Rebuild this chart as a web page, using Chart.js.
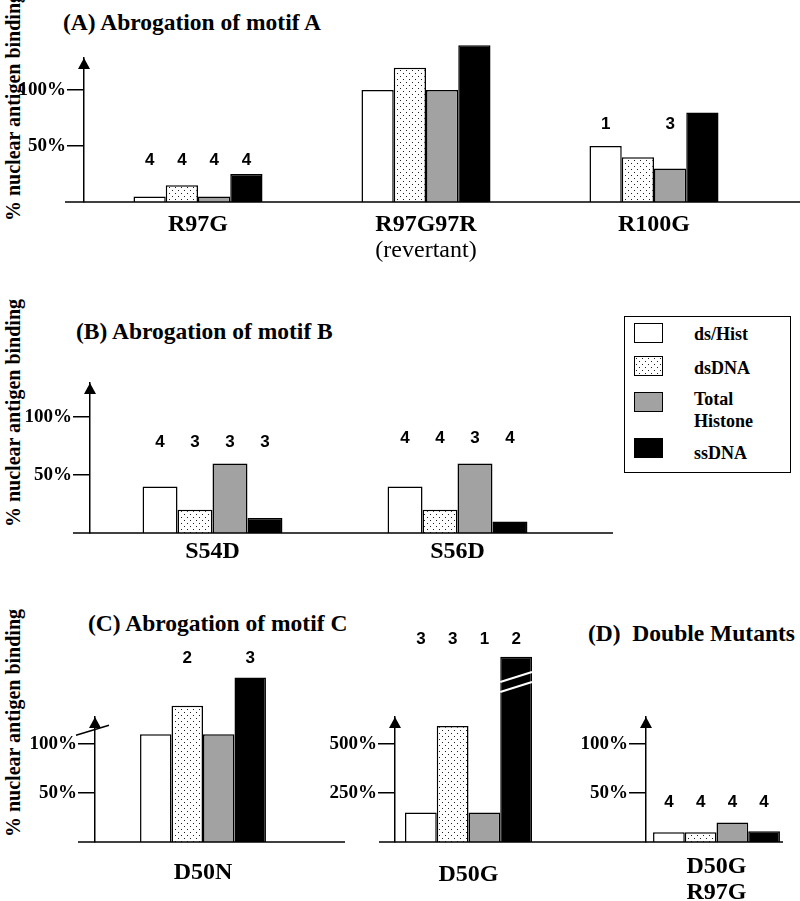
<!DOCTYPE html>
<html>
<head>
<meta charset="utf-8">
<script src="https://cdn.jsdelivr.net/npm/chart.js@4.4.1/dist/chart.umd.min.js"></script>
<style>
  body { margin: 0; background: #fff; }
  #page { position: relative; width: 800px; height: 901px; overflow: hidden; }
  #page canvas { position: absolute; left: 0; top: 0; }
  .title { position: absolute; font: bold 23.5px "Liberation Serif", serif; white-space: pre; line-height: 26px; }
  .ytitle { position: absolute; width: 260px; height: 20px; line-height: 20px; text-align: center;
            font: bold 20px "Liberation Serif", serif; transform: rotate(-90deg); white-space: nowrap; }
  #legend { position: absolute; left: 624px; top: 316px; width: 165px; height: 155px; border: 1.5px solid #000; }
  #legend .sw { position: absolute; left: 9px; width: 27px; height: 18px; border: 1.5px solid #000; }
  #legend .lb { position: absolute; left: 69px; width: 92px; font: bold 18px "Liberation Serif", serif; line-height: 22px; }
</style>
</head>
<body>
<div id="page">
  <div class="title" style="left:63px; top:9px;">(A) Abrogation of motif A</div>
  <div class="title" style="left:76px; top:318px;">(B) Abrogation of motif B</div>
  <div class="title" style="left:88px; top:610px;">(C) Abrogation of motif C</div>
  <div class="title" style="left:588px; top:620px;">(D)  Double Mutants</div>
  <div class="ytitle" style="left:-118px; top:97px;">% nuclear antigen binding</div>
  <div class="ytitle" style="left:-118px; top:403px;">% nuclear antigen binding</div>
  <div class="ytitle" style="left:-118px; top:713px;">% nuclear antigen binding</div>
  <div id="legend"></div>
</div>
<script>
// Series
const seriesNames = ['ds/Hist', 'dsDNA', 'Total Histone', 'ssDNA'];

// (A) motif A
const catsA = ['R97G', 'R97G97R', 'R100G'];
const subA = ['', '(revertant)', ''];
const dsHistA = [5, 100, 50];
const dsDnaA = [15, 120, 40];
const histA = [5, 100, 30];
const ssDnaA = [25, 140, 80];
const nA = [['4', '', '1'], ['4', '', ''], ['4', '', '3'], ['4', '', '']];
const nLevelA = [37.5, 0, 69];
const ticksA = [50, 100];

// (B) motif B
const catsB = ['S54D', 'S56D'];
const dsHistB = [40, 40];
const dsDnaB = [20, 20];
const histB = [60, 60];
const ssDnaB = [13, 10];
const nB = [['4', '4'], ['3', '4'], ['3', '3'], ['3', '4']];
const nLevelB = [78, 82];
const ticksB = [50, 100];

// (C) motif C, D50N
const catsC1 = ['D50N'];
const dsHistC1 = [110];
const dsDnaC1 = [139];
const histC1 = [110];
const ssDnaC1 = [168];
const nC1 = [[''], ['2'], [''], ['3']];
const nLevelC1 = [188];
const ticksC1 = [50, 100];

// (C) motif C, D50G (other scale, ssDNA bar broken)
const catsC2 = ['D50G'];
const dsHistC2 = [150];
const dsDnaC2 = [592];
const histC2 = [150];
const ssDnaC2 = [945];
const nC2 = [['3'], ['3'], ['1'], ['2']];
const nLevelC2 = [1036];
const ticksC2 = [250, 500];

// (D) double mutant
const catsD = [['D50G', 'R97G']];
const dsHistD = [10];
const dsDnaD = [10];
const histD = [20];
const ssDnaD = [11];
const nD = [['4'], ['4'], ['4'], ['4']];
const nLevelD = [41];
const ticksD = [50, 100];

// dotted fill
const pc = document.createElement('canvas');
pc.width = 6; pc.height = 6;
const pctx = pc.getContext('2d');
pctx.fillStyle = '#fff'; pctx.fillRect(0, 0, 6, 6);
pctx.fillStyle = '#222';
pctx.fillRect(1, 1, 1, 1);
pctx.fillRect(4, 4, 1, 1);
const dots = pctx.createPattern(pc, 'repeat');
const fills = ['#ffffff', dots, '#a2a2a2', '#000000'];
const cssFills = ['#ffffff', 'url(' + pc.toDataURL() + ')', '#a2a2a2', '#000000'];

// legend
const legend = document.getElementById('legend');
const swTop = [6, 39, 75, 121];
const lbTop = [6, 40, 71, 125];
seriesNames.forEach((name, i) => {
  const sw = document.createElement('div');
  sw.className = 'sw';
  sw.style.top = swTop[i] + 'px';
  sw.style.background = cssFills[i];
  legend.appendChild(sw);
  const lb = document.createElement('div');
  lb.className = 'lb';
  lb.style.top = lbTop[i] + 'px';
  lb.textContent = name;
  legend.appendChild(lb);
});

const page = document.getElementById('page');

function decor(o) {
  return {
    id: 'decor',
    afterDraw(chart) {
      const { ctx, chartArea: a, scales: { x, y } } = chart;
      const y0 = y.getPixelForValue(0);
      ctx.save();
      ctx.strokeStyle = '#000';
      ctx.fillStyle = '#000';
      ctx.lineWidth = 1.5;
      // baseline
      ctx.beginPath();
      ctx.moveTo(o.base[0], y0);
      ctx.lineTo(o.base[1], y0);
      ctx.stroke();
      // arrow on y axis
      ctx.beginPath();
      ctx.moveTo(a.left, a.top);
      ctx.lineTo(a.left - 6, a.top + 11);
      ctx.lineTo(a.left + 6, a.top + 11);
      ctx.closePath();
      ctx.fill();
      // broken axis mark
      if (o.axisBreak) {
        const yb = y.getPixelForValue(o.axisBreak);
        ctx.beginPath();
        ctx.moveTo(a.left - 19, yb + 5);
        ctx.lineTo(a.left + 14, yb - 5);
        ctx.stroke();
      }
      // broken bar mark
      if (o.barBreak) {
        const bar = chart.getDatasetMeta(3).data[0];
        const yb = y.getPixelForValue(o.barBreak);
        ctx.strokeStyle = '#fff';
        ctx.lineWidth = 2;
        [0, 10].forEach(d => {
          ctx.beginPath();
          ctx.moveTo(bar.x - bar.width / 2, yb + 5 + d);
          ctx.lineTo(bar.x + bar.width / 2, yb - 5 + d);
          ctx.stroke();
        });
      }
      // counts above bars
      ctx.fillStyle = '#000';
      ctx.textAlign = 'center';
      ctx.textBaseline = 'middle';
      ctx.font = 'bold 17px "Liberation Sans"';
      o.counts.forEach((arr, di) => {
        const meta = chart.getDatasetMeta(di);
        arr.forEach((t, ci) => {
          if (!t) return;
          ctx.fillText(t, meta.data[ci].x, y.getPixelForValue(o.nLevel[ci]));
        });
      });
      // category labels
      ctx.font = 'bold 24px "Liberation Serif"';
      o.cats.forEach((c, i) => {
        [].concat(c).forEach((line, k) => {
          ctx.fillText(line, x.getPixelForValue(i), y0 + o.labelDy + k * 26);
        });
      });
      if (o.sub) {
        ctx.font = '24px "Liberation Serif"';
        o.sub.forEach((s, i) => {
          if (s) ctx.fillText(s, x.getPixelForValue(i), y0 + o.labelDy + 26);
        });
      }
      ctx.restore();
    }
  };
}

function panel(o) {
  const cv = document.createElement('canvas');
  cv.width = 800;
  cv.height = 901;
  page.appendChild(cv);
  const datasets = o.values.map((v, i) => ({
    label: seriesNames[i],
    data: v,
    backgroundColor: fills[i],
    borderColor: '#000',
    borderWidth: 1.5,
    clip: false
  }));
  new Chart(cv, {
    type: 'bar',
    data: { labels: o.cats, datasets },
    options: {
      responsive: false,
      animation: false,
      events: [],
      layout: { padding: { left: o.left - 80, right: 800 - o.right, top: o.top, bottom: 901 - o.bottom } },
      plugins: { legend: { display: false }, tooltip: { enabled: false } },
      datasets: { bar: { barPercentage: 1, categoryPercentage: o.catPct } },
      scales: {
        x: { display: false },
        y: {
          min: 0,
          max: o.yMax,
          afterFit: s => { s.width = 80; },
          afterBuildTicks: s => { s.ticks = o.ticks.map(v => ({ value: v })); },
          border: { display: true, color: '#000', width: 1.5 },
          grid: { display: true, drawOnChartArea: false, drawTicks: true, tickLength: 17, color: '#000', lineWidth: 1.5 },
          ticks: {
            padding: 1,
            color: '#000',
            font: { family: 'Liberation Serif', size: 19, weight: 'bold' },
            callback: v => v + '%'
          }
        }
      }
    },
    plugins: [decor(o)]
  });
}

panel({ cats: catsA, sub: subA, values: [dsHistA, dsDnaA, histA, ssDnaA], counts: nA, nLevel: nLevelA, ticks: ticksA,
  left: 84, right: 768, top: 58, bottom: 202, yMax: 128.6, catPct: 0.566, base: [65, 800], labelDy: 23 });
panel({ cats: catsB, values: [dsHistB, dsDnaB, histB, ssDnaB], counts: nB, nLevel: nLevelB, ticks: ticksB,
  left: 90, right: 580, top: 383, bottom: 533, yMax: 129.3, catPct: 0.571, base: [73, 613], labelDy: 19 });
panel({ cats: catsC1, values: [dsHistC1, dsDnaC1, histC1, ssDnaC1], counts: nC1, nLevel: nLevelC1, ticks: ticksC1,
  left: 95, right: 311, top: 717, bottom: 842, yMax: 127.6, catPct: 0.583, base: [78, 345], labelDy: 31, axisBreak: 114 });
panel({ cats: catsC2, values: [dsHistC2, dsDnaC2, histC2, ssDnaC2], counts: nC2, nLevel: nLevelC2, ticks: ticksC2,
  left: 395, right: 542, top: 717, bottom: 842, yMax: 637.8, catPct: 0.864, base: [379, 646], labelDy: 33, barBreak: 842 });
panel({ cats: catsD, values: [dsHistD, dsDnaD, histD, ssDnaD], counts: nD, nLevel: nLevelD, ticks: ticksD,
  left: 646, right: 787, top: 717, bottom: 842, yMax: 127.6, catPct: 0.90, base: [646, 783], labelDy: 25 });
</script>
</body>
</html>
